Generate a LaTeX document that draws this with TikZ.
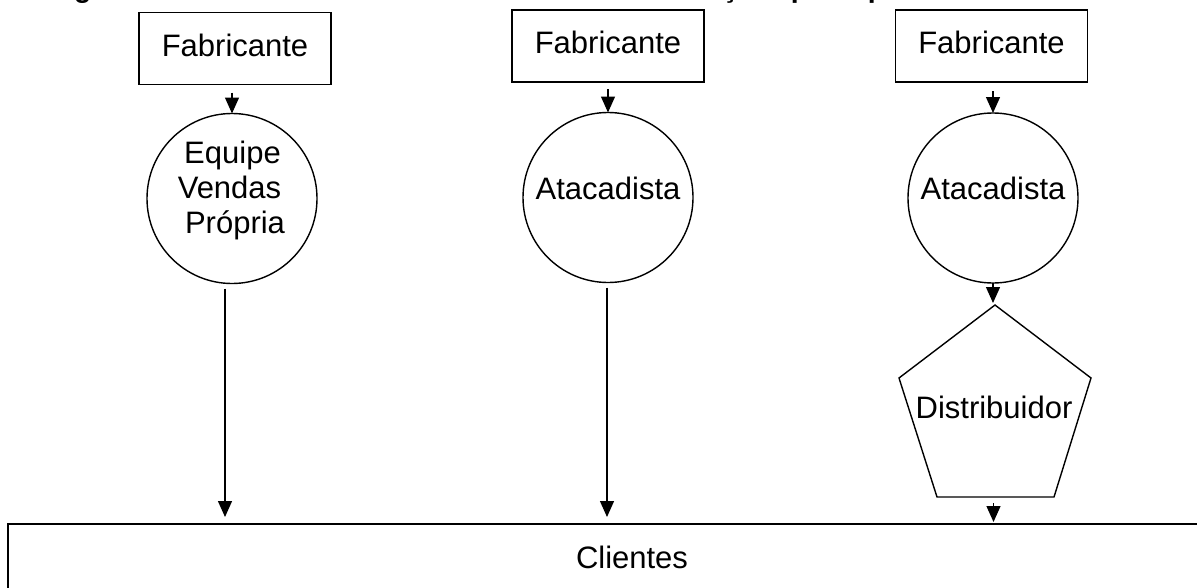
\documentclass[tikz,border=0pt]{standalone}
\usepackage{fontspec}
\setmainfont{Liberation Sans}
\usetikzlibrary{arrows.meta,calc}
\begin{document}
\begin{tikzpicture}[x=1pt,y=-1pt,
  every node/.style={outer sep=0pt, inner sep=0pt},
  body/.style={font=\fontsize{31}{35}\selectfont},
  fabbox/.style={draw, line width=1.4pt, minimum width=192pt, minimum height=72pt, body, text height=22pt, text depth=7pt},
  circ/.style={draw, circle, line width=1.4pt, minimum size=170pt, body},
  arr/.style={line width=1.3pt, -{Triangle[width=14pt,length=16pt]}},
  shape line/.style={line width=1.4pt, line join=miter}
  ]
\path[use as bounding box] (0,0) rectangle (1197,587);
\begin{scope}
\clip (0,0) rectangle (1197,587);
\node[anchor=base west, font=\bfseries\fontsize{28.3}{30}\selectfont] (title) at (49,-3) {Figura 10 – Estruturas dos três canais de distribuição: principais};

\node[fabbox] (f1) at (235,48.5) {Fabricante};
\node[fabbox] (f2) at (608,46) {Fabricante};
\node[fabbox] (f3) at (991.5,46) {Fabricante};

\node[circ] (c1) at (232,198.5) {};
\node[body, align=center] (t1) at (229.5,190) {\hspace*{6pt}Equipe\\Vendas\\\hspace*{11pt}Própria};
\node[circ, text height=22pt, text depth=19pt] (c2) at (608,197.5) {Atacadista};
\node[circ, text height=22pt, text depth=19pt] (c3) at (993,198) {Atacadista};

\coordinate (ptop) at (995,305);
\coordinate (pbot) at (995.5,497);
\draw[shape line] (ptop) -- (1091,378) -- (1054,497) -- (937,497) -- (899,378) -- cycle;
\node[body, anchor=base] (d) at (994,418) {Distribuidor};

\node[draw, line width=2.5pt, minimum width=1248pt, minimum height=66pt, body] (cl) at (632,557) {Clientes};

\draw[arr] ($(c1.north |- f1.south)+(0,8)$) -- (c1.north);
\draw[arr] ($(c2.north |- f2.south)+(0,7)$) -- (c2.north);
\draw[arr] ($(c3.north |- f3.south)+(0,9)$) -- (c3.north);

\draw[arr] ($(c1.south)+(-7,5)$) -- ($(c1.south |- cl.north)+(-7,-7)$);
\draw[arr] ($(c2.south)+(-1,5)$) -- ($(c2.south |- cl.north)+(-1,-7)$);
\draw[arr] (c3.south) -- ($(c3.south |- ptop)+(0,-2)$);
\draw[arr] ($(pbot)+(-2,6)$) -- ($(pbot |- cl.north)+(-2,-2)$);
\end{scope}
\end{tikzpicture}
\end{document}
